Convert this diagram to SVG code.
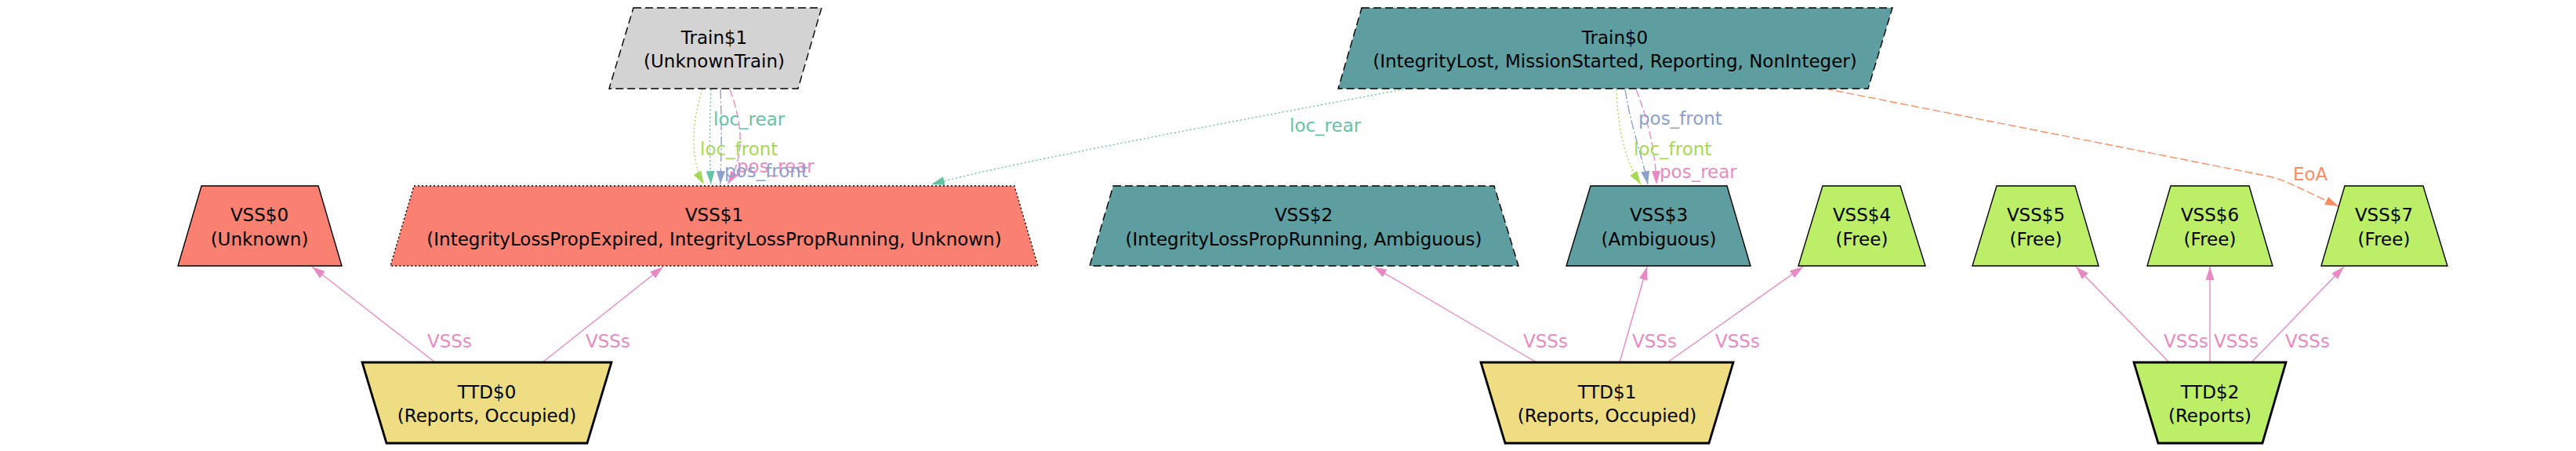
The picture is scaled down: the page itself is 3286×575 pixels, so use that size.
<svg xmlns="http://www.w3.org/2000/svg" width="3286" height="575" viewBox="0 0 3286 575">
<style>
text{font-family:"DejaVu Sans","Liberation Sans",sans-serif;font-size:23px}
.n text{text-anchor:middle;fill:#000}
.shape{stroke:#000;stroke-width:1.4}
.ttd{stroke:#000;stroke-width:2.8}
.dash{stroke-dasharray:10,5}
.dot{stroke-dasharray:2,3}
.e{fill:none;stroke-width:1.4}
.lbl{text-anchor:start}
</style>
<defs>
<marker id="aPink" markerUnits="userSpaceOnUse" markerWidth="18" markerHeight="11" refX="17" refY="5.5" orient="auto"><path d="M0,0 L17,5.5 L0,11 z" fill="#e78ac3"/></marker>
<marker id="aGreen" markerUnits="userSpaceOnUse" markerWidth="18" markerHeight="11" refX="17" refY="5.5" orient="auto"><path d="M0,0 L17,5.5 L0,11 z" fill="#a6d854"/></marker>
<marker id="aTeal" markerUnits="userSpaceOnUse" markerWidth="18" markerHeight="11" refX="17" refY="5.5" orient="auto"><path d="M0,0 L17,5.5 L0,11 z" fill="#66c2a5"/></marker>
<marker id="aBlue" markerUnits="userSpaceOnUse" markerWidth="18" markerHeight="11" refX="17" refY="5.5" orient="auto"><path d="M0,0 L17,5.5 L0,11 z" fill="#8da0cb"/></marker>
<marker id="aOrange" markerUnits="userSpaceOnUse" markerWidth="18" markerHeight="11" refX="17" refY="5.5" orient="auto"><path d="M0,0 L17,5.5 L0,11 z" fill="#fc8d62"/></marker>
</defs>
<rect width="3286" height="575" fill="#fff"/>

<g id="connectors">
<!-- Train$1 -> VSS$1 -->
<path class="e" d="M896,114 C884,150 878,200 898,235" stroke="#a6d854" stroke-dasharray="2,3" marker-end="url(#aGreen)"/>
<path class="e" d="M907,114 C905,160 905,200 907,235" stroke="#66c2a5" stroke-dasharray="2,3" marker-end="url(#aTeal)"/>
<path class="e" d="M919,114 C921,160 920,200 919,235" stroke="#8da0cb" stroke-dasharray="12,3,2,3" marker-end="url(#aBlue)"/>
<path class="e" d="M931,114 C948,160 950,200 928,235" stroke="#e78ac3" stroke-dasharray="10,4" marker-end="url(#aPink)"/>
<text class="lbl" x="910" y="160" fill="#66c2a5">loc_rear</text>
<text class="lbl" x="893" y="198" fill="#a6d854">loc_front</text>
<text class="lbl" x="940" y="220" fill="#e78ac3">pos_rear</text>
<text class="lbl" x="924" y="226" fill="#8da0cb">pos_front</text>
<!-- Train$0 -> VSS$1 loc_rear -->
<path class="e" d="M1795,113 C1600,150 1300,205 1188,235" stroke="#66c2a5" stroke-dasharray="2,3" marker-end="url(#aTeal)"/>
<text class="lbl" x="1645" y="168" fill="#66c2a5">loc_rear</text>
<!-- Train$0 -> VSS$3 -->
<path class="e" d="M2062,114 C2064,160 2070,200 2093,235" stroke="#a6d854" stroke-dasharray="2,3" marker-end="url(#aGreen)"/>
<path class="e" d="M2073,114 C2080,160 2095,200 2102,235" stroke="#8da0cb" stroke-dasharray="12,3,2,3" marker-end="url(#aBlue)"/>
<path class="e" d="M2087,114 C2105,160 2112,200 2113,235" stroke="#e78ac3" stroke-dasharray="10,4" marker-end="url(#aPink)"/>
<text class="lbl" x="2090" y="159" fill="#8da0cb">pos_front</text>
<text class="lbl" x="2084" y="198" fill="#a6d854">loc_front</text>
<text class="lbl" x="2117" y="227" fill="#e78ac3">pos_rear</text>
<!-- Train$0 -> VSS$7 EoA -->
<path class="e" d="M2328,113 L2895,225 C2910,228 2930,238 2983,263" stroke="#fc8d62" stroke-dasharray="10,4" marker-end="url(#aOrange)"/>
<text class="lbl" x="2925" y="230" fill="#fc8d62">EoA</text>
<!-- TTD -> VSS -->
<g stroke="#e78ac3" class="e">
<path class="e" d="M555,462 L398,340" marker-end="url(#aPink)"/>
<path class="e" d="M692,462 L846,340" marker-end="url(#aPink)"/>
<path class="e" d="M1960,462 L1752,340" marker-end="url(#aPink)"/>
<path class="e" d="M2066,462 L2101,340" marker-end="url(#aPink)"/>
<path class="e" d="M2127,462 L2300,340" marker-end="url(#aPink)"/>
<path class="e" d="M2767,462 L2648,340" marker-end="url(#aPink)"/>
<path class="e" d="M2819,462 L2819,340" marker-end="url(#aPink)"/>
<path class="e" d="M2872,462 L2990,340" marker-end="url(#aPink)"/>
</g>
<g fill="#e78ac3">
<text class="lbl" x="545" y="443">VSSs</text>
<text class="lbl" x="747" y="443">VSSs</text>
<text class="lbl" x="1943" y="443">VSSs</text>
<text class="lbl" x="2082" y="443">VSSs</text>
<text class="lbl" x="2188" y="443">VSSs</text>
<text class="lbl" x="2760" y="443">VSSs</text>
<text class="lbl" x="2824" y="443">VSSs</text>
<text class="lbl" x="2915" y="443">VSSs</text>
</g>
</g>

<g id="Train1" class="n"><polygon class="shape dash" points="808,10 1048,10 1018,113 777,113" fill="#d3d3d3"/><text x="911" y="56">Train$1</text><text x="911" y="86">(UnknownTrain)</text></g>
<g id="Train0" class="n"><polygon class="shape dash" points="1737,10 2414,10 2383,113 1707,113" fill="#5f9ea0"/><text x="2060" y="56">Train$0</text><text x="2060" y="86">(IntegrityLost, MissionStarted, Reporting, NonInteger)</text></g>

<g id="VSS0" class="n"><polygon class="shape" points="257,237 406,237 436,339 227,339" fill="#fa8072"/><text x="331" y="282">VSS$0</text><text x="331" y="313">(Unknown)</text></g>
<g id="VSS1" class="n"><polygon class="shape dot" points="528,237 1294,237 1324,339 498,339" fill="#fa8072"/><text x="911" y="282">VSS$1</text><text x="911" y="313">(IntegrityLossPropExpired, IntegrityLossPropRunning, Unknown)</text></g>
<g id="VSS2" class="n"><polygon class="shape dash" points="1420,237 1906,237 1937,339 1390,339" fill="#5f9ea0"/><text x="1663" y="282">VSS$2</text><text x="1663" y="313">(IntegrityLossPropRunning, Ambiguous)</text></g>
<g id="VSS3" class="n"><polygon class="shape" points="2029,237 2203,237 2233,339 1998,339" fill="#5f9ea0"/><text x="2116" y="282">VSS$3</text><text x="2116" y="313">(Ambiguous)</text></g>
<g id="VSS4" class="n"><polygon class="shape" points="2325,237 2424,237 2456,339 2294,339" fill="#bcee68"/><text x="2375" y="282">VSS$4</text><text x="2375" y="313">(Free)</text></g>
<g id="VSS5" class="n"><polygon class="shape" points="2547,237 2647,237 2677,339 2516,339" fill="#bcee68"/><text x="2597" y="282">VSS$5</text><text x="2597" y="313">(Free)</text></g>
<g id="VSS6" class="n"><polygon class="shape" points="2769,237 2869,237 2899,339 2739,339" fill="#bcee68"/><text x="2819" y="282">VSS$6</text><text x="2819" y="313">(Free)</text></g>
<g id="VSS7" class="n"><polygon class="shape" points="2991,237 3091,237 3122,339 2961,339" fill="#bcee68"/><text x="3041" y="282">VSS$7</text><text x="3041" y="313">(Free)</text></g>

<g id="TTD0" class="n"><polygon class="ttd" points="462,462 780,462 749,565 493,565" fill="#eedd82"/><text x="621" y="508">TTD$0</text><text x="621" y="538">(Reports, Occupied)</text></g>
<g id="TTD1" class="n"><polygon class="ttd" points="1889,462 2211,462 2180,565 1920,565" fill="#eedd82"/><text x="2050" y="508">TTD$1</text><text x="2050" y="538">(Reports, Occupied)</text></g>
<g id="TTD2" class="n"><polygon class="ttd" points="2722,462 2916,462 2886,565 2753,565" fill="#bcee68"/><text x="2819" y="508">TTD$2</text><text x="2819" y="538">(Reports)</text></g>
</svg>
